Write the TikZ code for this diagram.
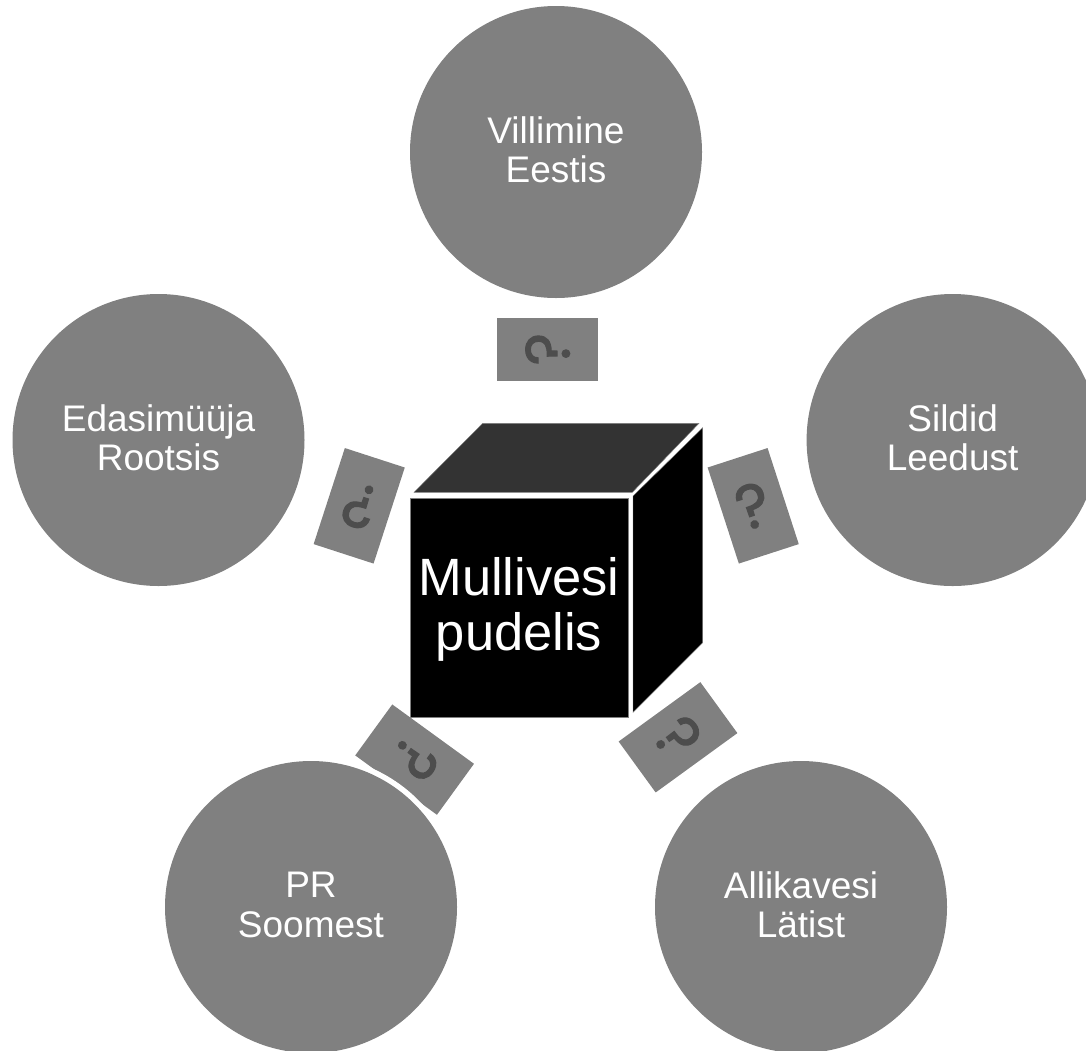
\documentclass[tikz,border=0pt]{standalone}
\usepackage{fontspec}
\setmainfont{Liberation Sans}
\newfontfamily\qfont{Poppins}[FakeBold=1.8]
\tikzset{
  x=1pt,y=-1pt,
  spoke/.style={circle,fill=spokegray,text=white,minimum size=292pt,inner sep=0pt,align=center,text depth=4.5pt,
     font=\fontsize{37}{39.3}\selectfont},
  tile/.style={rectangle,fill=spokegray,text=markgray,minimum width=63pt,minimum height=101pt,inner sep=0pt,
     font=\qfont\fontsize{62}{62}\selectfont},
  face/.style={line width=0.4pt,draw=spokegray,line join=miter},
  cubetext/.style={text=white,align=center,inner sep=0pt,font=\fontsize{52.5}{55.4}\selectfont},
}
\definecolor{spokegray}{HTML}{808080}
\definecolor{markgray}{HTML}{4D4D4D}
\definecolor{topgray}{HTML}{333333}
\begin{document}
\begin{tikzpicture}
\useasboundingbox (0,0) rectangle (1086,1050);
\clip (0,0) rectangle (1086,1050);
% arrow tiles
\node[tile,rotate=90] (t1) at (547.7,349.2) {?};
\node[tile,rotate=18] (t2) at (753.2,505.8) {?};
\node[tile,rotate=-54] (t3) at (678,737.3) {?};
\node[tile,rotate=-126] (t4) at (414.6,759.6) {?};
\node[tile,rotate=162] (t5) at (359.2,505.8) {?};
% circle halo over the tile
\fill[white] (311,907) circle (151.5pt);
% circles
\node[spoke] (a) at (556,152) {Villimine\\Eestis};
\node[spoke] (b) at (952.6,440) {Sildid\\Leedust};
\node[spoke] (c) at (801,907) {Allikavesi\\Lätist};
\node[spoke] (d) at (311,907) {PR\\Soomest};
\node[spoke] (e) at (158.5,440) {Edasimüüja\\Rootsis};
% cube
\fill[topgray,face] (414,492.3) -- (482.7,423.3) -- (699,423.3) -- (632.3,492.3) -- cycle;
\fill[black,face] (633,496) -- (702.7,427.7) -- (702.7,642.7) -- (633,712.3) -- cycle;
\fill[black,face] (409.7,497.7) rectangle (628.3,716.7);
\node[cubetext] (m) at (519,609.7) {Mullivesi\\pudelis};
\end{tikzpicture}
\end{document}
